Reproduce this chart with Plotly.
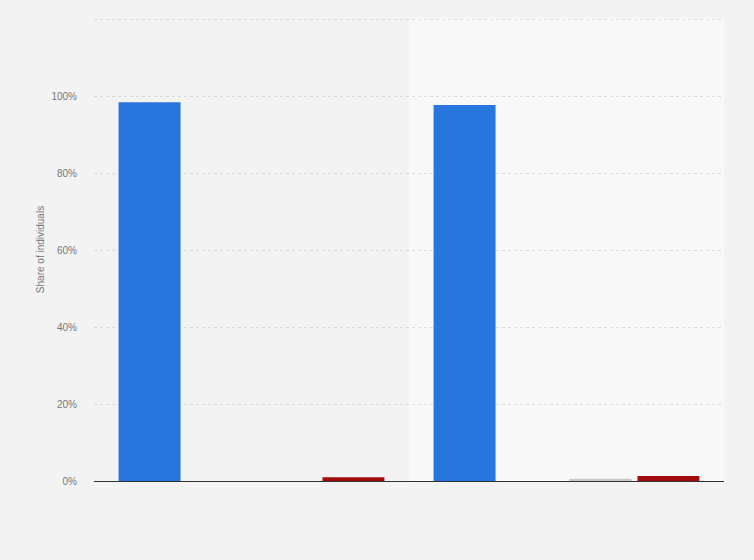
import plotly.graph_objects as go

# Datos (porcentaje de individuos)
categories = ["Group 1", "Group 2"]
series_names = ["Series A", "Series B", "Series C", "Series D"]
series_a = [98.4, 97.7]
series_b = [0.0, 0.0]
series_c = [0.0, 0.6]
series_d = [1.0, 1.3]
y_ticks = [0, 20, 40, 60, 80, 100, 120]
y_tick_labels = ["0%", "20%", "40%", "60%", "80%", "100%", ""]

colors = ["#2876dd", "#2876dd", "#c8c8c8", "#a30d0d"]

fig = go.Figure()
for name, vals, col in zip(series_names, [series_a, series_b, series_c, series_d], colors):
    fig.add_trace(go.Bar(x=categories, y=vals, name=name,
                         marker=dict(color=col, line=dict(width=0))))

# Fondo alterno para el segundo grupo
fig.add_shape(type="rect", xref="x domain", yref="y domain",
              x0=0.5, x1=1.0, y0=0, y1=1,
              fillcolor="#f8f8f8", line=dict(width=0), layer="below")

fig.update_layout(
    width=754, height=560,
    margin=dict(l=94, r=30, t=18, b=79),
    paper_bgcolor="#f3f3f3",
    plot_bgcolor="#f3f3f3",
    barmode="group",
    bargap=0.137,
    bargroupgap=0.088,
    showlegend=False,
    font=dict(family="Arial, Liberation Sans, sans-serif", size=10, color="#777777"),
)
fig.update_xaxes(showticklabels=False, showgrid=False, zeroline=False,
                 showline=True, linecolor="#333333", linewidth=1)
fig.update_yaxes(range=[0, 120.3], tickvals=y_ticks, ticktext=y_tick_labels,
                 showgrid=True, gridcolor="#d9d9d9", griddash="dot", gridwidth=1,
                 zeroline=False, showline=False,
                 ticklabelstandoff=16,
                 title=dict(text="Share of individuals", font=dict(size=10, color="#777777"),
                            standoff=4))

# sin margen del body para que la figura ocupe toda la ventana
fig.write_html("out.html", config={"displayModeBar": False},
               post_script="document.body.style.margin='0';document.body.style.background='#f3f3f3';")
